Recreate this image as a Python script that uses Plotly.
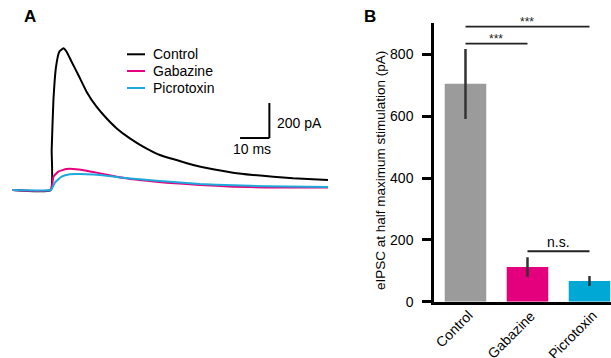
import plotly.graph_objects as go

W, H = 611, 358
FONT = "Arial, Liberation Sans, sans-serif"

# ---------------- Panel A data (time in ms, current in pA) ----------------
ctrl_t = [0, 13.0, 13.3, 13.9, 14.8, 15.9, 17.3, 18.4, 20.1, 22.4, 25.2, 28.6, 32.0,
          35.5, 40.0, 44.5, 50.2, 55.9, 61.6, 68.4, 75.2, 82.0, 88.9, 95.7, 102.5, 107.6]
ctrl_i = [0, 0, 229, 514, 705, 790, 810, 790, 733, 657, 562, 476, 410,
          352, 295, 248, 200, 171, 143, 118, 99, 86, 76, 67, 61, 57]

gaba_t = [0, 13.0, 13.9, 15.6, 18.4, 20.7, 25.2, 29.8, 35.5, 41.1, 52.5, 63.9, 75.2, 86.6, 107.6]
gaba_i = [0, 0, 76, 105, 120, 120, 110, 95, 76, 61, 42, 29, 19, 15, 15]

picro_t = [0, 13.0, 13.6, 14.4, 16.7, 19.5, 23.0, 27.5, 32.0, 36.6, 43.4, 52.5, 63.9, 75.2, 86.6, 107.6]
picro_i = [0, 0, 15, 42, 76, 90, 91, 88, 82, 72, 61, 48, 34, 27, 21, 17]

trace_names = ["Control", "Gabazine", "Picrotoxin"]
trace_colors = ["#000000", "#E6007E", "#1EA8DC"]

SCALE_MS = 10
SCALE_PA = 200

# ---------------- Panel B data ----------------
categories = ["Control", "Gabazine", "Picrotoxin"]
means = [705, 112, 67]
err_plus = [113, 32, 16]
err_minus = [114, 31, 16]
bar_colors = ["#9B9B9B", "#E4007C", "#00A8D6"]
y_ticks = [0, 200, 400, 600, 800]
sig_pairs = [(0, 2, 890, "***"), (0, 1, 835, "***"), (1, 2, 163, "n.s.")]


def PX(x):
    return x / W


def PY(y):
    return 1 - y / H


fig = go.Figure()

for t, i, name, col in zip([ctrl_t, gaba_t, picro_t], [ctrl_i, gaba_i, picro_i],
                           trace_names, trace_colors):
    fig.add_trace(go.Scatter(x=t, y=i, mode="lines", name=name,
                             line=dict(color=col, width=2, shape="spline", smoothing=0.4),
                             xaxis="x", yaxis="y", showlegend=False, hoverinfo="skip"))

fig.add_trace(go.Bar(x=list(range(len(categories))), y=means, marker=dict(color=bar_colors, line=dict(width=0)),
                     width=0.67,
                     error_y=dict(type="data", symmetric=False, array=err_plus, arrayminus=err_minus,
                                  color="#333333", thickness=2.5, width=0),
                     xaxis="x2", yaxis="y2", showlegend=False))

shapes = []
annotations = []

# Legend (manual)
for k, (name, col) in enumerate(zip(trace_names, trace_colors)):
    yy = [54.3, 71.0, 88.0][k]
    shapes.append(dict(type="line", xref="paper", yref="paper", x0=PX(127), x1=PX(145),
                       y0=PY(yy), y1=PY(yy), line=dict(color=col, width=2)))
    annotations.append(dict(text=name, xref="paper", yref="paper", x=PX(151), y=PY(yy),
                            xanchor="left", yanchor="middle", showarrow=False,
                            font=dict(size=14, color="#000", family=FONT)))

# Scale bar (data coords of panel A)
sb_t0, sb_i0 = 77.6, 297
shapes.append(dict(type="line", xref="x", yref="y", x0=sb_t0, x1=sb_t0 + SCALE_MS,
                   y0=sb_i0, y1=sb_i0, line=dict(color="#000", width=2)))
shapes.append(dict(type="line", xref="x", yref="y", x0=sb_t0 + SCALE_MS, x1=sb_t0 + SCALE_MS,
                   y0=sb_i0, y1=sb_i0 + SCALE_PA, line=dict(color="#000", width=2)))
annotations.append(dict(text=f"{SCALE_PA} pA", xref="paper", yref="paper", x=PX(275), y=PY(123),
                        xanchor="left", yanchor="middle", showarrow=False,
                        font=dict(size=14, color="#000", family=FONT)))
annotations.append(dict(text=f"{SCALE_MS} ms", xref="paper", yref="paper", x=PX(252), y=PY(149),
                        xanchor="center", yanchor="middle", showarrow=False,
                        font=dict(size=14, color="#000", family=FONT)))

# Panel labels
annotations.append(dict(text="<b>A</b>", xref="paper", yref="paper", x=PX(30), y=PY(17),
                        xanchor="center", yanchor="middle", showarrow=False,
                        font=dict(size=17, color="#000", family=FONT)))
annotations.append(dict(text="<b>B</b>", xref="paper", yref="paper", x=PX(370), y=PY(17),
                        xanchor="center", yanchor="middle", showarrow=False,
                        font=dict(size=17, color="#000", family=FONT)))

# Y title panel B
annotations.append(dict(text="eIPSC at half maximum stimulation (pA)", xref="paper", yref="paper",
                        x=PX(380), y=PY(171), textangle=-90, xanchor="center", yanchor="middle",
                        showarrow=False, font=dict(size=13.5, color="#000", family=FONT)))

# Category labels (rotated, end anchored near each bar)
for k, cat in enumerate(categories):
    annotations.append(dict(text=cat, xref="x2", yref="paper", x=k, y=PY(305), xshift=13,
                            xanchor="right", yanchor="top", textangle=-45, showarrow=False,
                            font=dict(size=14, color="#000", family=FONT)))

# Significance
for a, b, yv, lab in sig_pairs:
    shapes.append(dict(type="line", xref="x2", yref="y2", x0=a, x1=b, y0=yv, y1=yv,
                       line=dict(color="#222", width=2 if lab == "n.s." else 1.8)))
    if lab == "n.s.":
        annotations.append(dict(text=lab, xref="x2", yref="y2", x=(a + b) / 2, y=yv,
                                xanchor="center", yanchor="bottom", yshift=-1, showarrow=False,
                                font=dict(size=14, color="#000", family=FONT)))
    else:
        annotations.append(dict(text=lab, xref="x2", yref="y2", x=(a + b) / 2, y=yv,
                                xanchor="center", yanchor="bottom", yshift=-4, showarrow=False,
                                font=dict(size=12, color="#222", family=FONT)))

px_per_ms = 2.93
px_per_pa = 0.175
a_width = 360
fig.update_layout(
    width=W, height=H, margin=dict(l=0, r=0, t=0, b=0, pad=0, autoexpand=False),
    paper_bgcolor="white", plot_bgcolor="rgba(0,0,0,0)",
    font=dict(family=FONT, size=14, color="#000"),
    xaxis=dict(domain=[0, a_width / W], range=[-12.7 / px_per_ms, (a_width - 12.7) / px_per_ms],
               visible=False, fixedrange=True, automargin=False),
    yaxis=dict(domain=[0, 1], range=[-(H - 190) / px_per_pa, 190 / px_per_pa],
               visible=False, fixedrange=True, automargin=False),
    xaxis2=dict(domain=[434 / W, 1], range=[-0.508, 2.347], anchor="y2", automargin=False,
                tickmode="array", tickvals=list(range(len(categories))), showticklabels=False,
                ticks="", showline=True, linecolor="#000", linewidth=2.5,
                showgrid=False, zeroline=False),
    yaxis2=dict(domain=[56.3 / H, 1 - 23.3 / H], range=[0, 901], anchor="x2", automargin=False,
                tickmode="array", tickvals=y_ticks, ticks="outside", ticklen=9, tickwidth=2.5,
                tickcolor="#000", showline=True, linecolor="#000", linewidth=2.5,
                showgrid=False, zeroline=False, ticklabelstandoff=6,
                tickfont=dict(size=14, family=FONT, color="#000")),
    shapes=shapes, annotations=annotations, bargap=0.33,
)

fig.write_html("out.html", config={"displayModeBar": False},
               post_script="document.body.style.margin='0';document.body.style.overflow='hidden';")
